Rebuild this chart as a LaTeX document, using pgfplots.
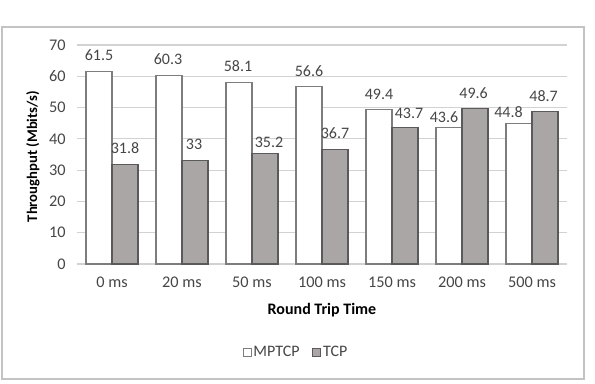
\documentclass[border=0pt]{standalone}
\usepackage{pgfplots}
\usepackage{pgfplotstable}
\pgfplotsset{compat=1.18}
\usepackage{fontspec}
\setmainfont{Carlito}
\definecolor{tcpfill}{RGB}{170,166,166}
\definecolor{tcpdraw}{RGB}{90,90,90}
\definecolor{mpdraw}{RGB}{125,125,125}
\definecolor{gridc}{RGB}{210,210,210}
\definecolor{framec}{RGB}{195,195,195}
\definecolor{txt}{RGB}{70,70,70}
\pgfplotstableread{
x y dx dy
0 61.5 0 12.4
1 60.3 -0.75 12
2 58.1 -0.75 12
3 56.6 0 12
4 49.4 0 11.25
5 43.6 -3.75 7.9
6 44.8 -7.9 9
}\mptcp
\pgfplotstableread{
x y dx dy
0 31.8 0 12.4
1 33 -0.75 12
2 35.2 3 9
3 36.7 0 12
4 43.7 3 10.5
5 49.6 -1 12
6 48.7 -1 11.6
}\tcp
\begin{document}
\begin{tikzpicture}
\path[use as bounding box] (0pt,0pt) rectangle (446.25pt,287.25pt);
\draw[framec, line width=0.8pt] (1.5pt,3pt) rectangle (438pt,267pt);
\begin{axis}[
  at={(57.75pt,89.25pt)}, anchor=south west,
  scale only axis, width=367.5pt, height=164.25pt,
  xmin=-0.5, xmax=6.5, ymin=0, ymax=70,
  ybar=0pt, bar width=19.5pt,
  xtick={0,...,6},
  xticklabels={0 ms,20 ms,50 ms,100 ms,150 ms,200 ms,500 ms},
  ytick={0,10,...,70},
  ymajorgrids, grid style={gridc, line width=0.9pt},
  axis line style={draw=none},
  major tick length=0pt,
  /pgf/number format/assume math mode=true,
  tick label style={font=\fontsize{12.2}{14}\selectfont, text=txt},
  yticklabel style={xshift=-5pt},
  xticklabel style={yshift=-6pt},
  xlabel={\textbf{Round Trip Time}},
  ylabel={\textbf{Throughput (Mbits/s)}},
  xlabel style={font=\fontsize{12}{14}\selectfont, at={(axis description cs:0.5,-0.21)}, anchor=center},
  ylabel style={font=\fontsize{11}{13}\selectfont, at={(axis description cs:-0.0898,0.49)}, anchor=center},
  legend style={draw=none, at={(axis description cs:0.447,-0.405)}, anchor=center,
    legend columns=2, font=\fontsize{12}{14}\selectfont, text=txt,
    nodes={inner xsep=1.5pt},
    /tikz/every even column/.append style={column sep=8pt}},
  legend image code/.code={\draw[#1, line width=0.6pt] (0pt,-3pt) rectangle (6pt,3pt);},
]
\addplot[fill=white, draw=mpdraw, line width=0.8pt,
  visualization depends on={\thisrow{dx} \as \ldx},
  visualization depends on={\thisrow{dy} \as \ldy},
  nodes near coords,
  every node near coord/.append style={font=\fontsize{12}{14}\selectfont, text=txt, anchor=center, xshift=\ldx pt, yshift=\ldy pt}]
  table[x=x,y=y] {\mptcp};
\addplot[fill=tcpfill, draw=tcpdraw, line width=0.8pt,
  visualization depends on={\thisrow{dx} \as \ldx},
  visualization depends on={\thisrow{dy} \as \ldy},
  nodes near coords,
  every node near coord/.append style={font=\fontsize{12}{14}\selectfont, text=txt, anchor=center, xshift=\ldx pt, yshift=\ldy pt}]
  table[x=x,y=y] {\tcp};
\legend{MPTCP,TCP}
\end{axis}
\end{tikzpicture}
\end{document}
